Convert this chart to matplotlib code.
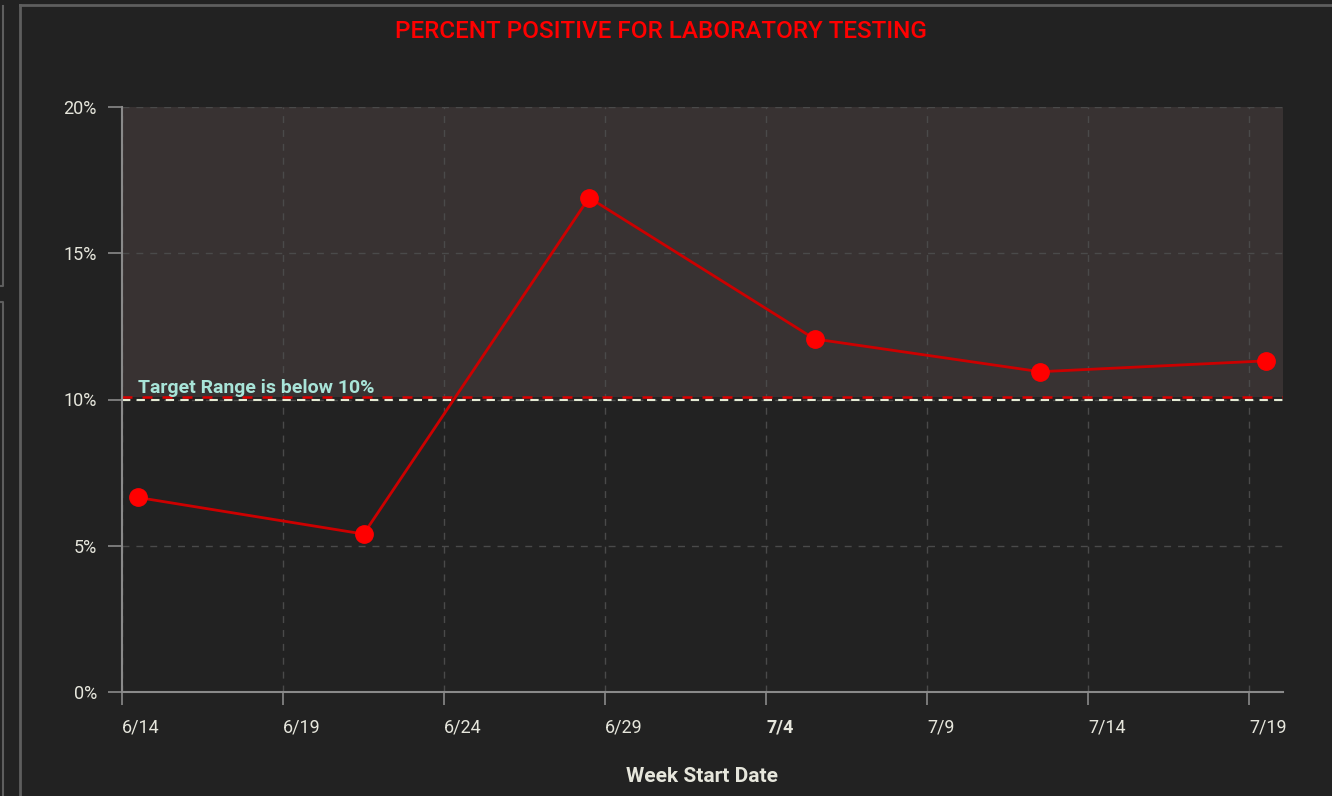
import matplotlib
matplotlib.use("Agg")
import matplotlib.pyplot as plt
from matplotlib.lines import Line2D
import pandas as pd

# ---- data ----
week_start = ["2020-06-14 12:00", "2020-06-21 12:00", "2020-06-28 12:00",
              "2020-07-05 12:00", "2020-07-12 12:00", "2020-07-19 12:00"]
pct_positive = [6.65, 5.40, 16.90, 12.07, 10.95, 11.32]
target_pct = 10.0
tick_dates = ["2020-06-14", "2020-06-19", "2020-06-24", "2020-06-29",
              "2020-07-04", "2020-07-09", "2020-07-14", "2020-07-19"]
tick_labels = ["6/14", "6/19", "6/24", "6/29", "7/4", "7/9", "7/14", "7/19"]
y_ticks = [0, 5, 10, 15, 20]
y_labels = ["0%", "5%", "10%", "15%", "20%"]
title = "PERCENT POSITIVE FOR LABORATORY TESTING"
x_title = "Week Start Date"
target_text = "Target Range is below 10%"

FONT = ["Roboto", "DejaVu Sans"]
plt.rcParams["font.family"] = FONT

BG = "#222222"
SHADE = "#383232"
TXT = "#e6e6dc"
GRID = "#4a4a4a"

x = pd.to_datetime(week_start)
ticks = pd.to_datetime(tick_dates)

fig = plt.figure(figsize=(13.32, 7.96), dpi=100, facecolor=BG)
ax = fig.add_axes([122/1332, 1 - 692/796, (1283-122)/1332, (692-107)/796])
ax.set_facecolor(BG)

x0 = pd.Timestamp("2020-06-14")
x1 = pd.Timestamp("2020-07-20 01:00")
ax.set_xlim(x0, x1)
ax.set_ylim(0, 20)

# shaded region above target
ax.axhspan(target_pct + 0.1, 20, color=SHADE, zorder=0, lw=0)

# grid
ax.set_xticks(ticks)
ax.set_yticks(y_ticks)
ax.grid(True, color=GRID, linestyle=(0, (5, 5)), linewidth=1, zorder=1)

# target lines
ax.axhline(target_pct + 0.1, color="#dd0000", linestyle=(0, (4, 4)), lw=1.8, zorder=2)
ax.axhline(target_pct, color="#e4ead4", linestyle=(0, (4, 3)), lw=1.5, zorder=2)
ax.text(pd.Timestamp("2020-06-14 12:00"), target_pct + 0.08, target_text,
        color="#a8e4d8", fontsize=14, fontweight="bold", ha="left", va="bottom",
        zorder=4)

# data
ax.plot(x, pct_positive, color="#cc0000", lw=2, zorder=3)
ax.plot(x, pct_positive, linestyle="none", marker="o", markersize=12.5,
        markerfacecolor="#ff0000", markeredgecolor="#ff0000", zorder=4)

# axes styling
for s in ["top", "right"]:
    ax.spines[s].set_visible(False)
for s in ["left", "bottom"]:
    ax.spines[s].set_color("#8a8a8a")
    ax.spines[s].set_linewidth(1.5)

ax.set_xticklabels(tick_labels)
ax.set_yticklabels(y_labels)
ax.tick_params(axis="x", colors="#8a8a8a", length=9, width=1.2, labelcolor=TXT,
               labelsize=13, pad=10)
ax.tick_params(axis="y", colors="#8a8a8a", length=10, width=1.2, labelcolor=TXT,
               labelsize=13, pad=8)
for lab in ax.get_xticklabels():
    lab.set_horizontalalignment("left")
    if lab.get_text() == "7/4":
        lab.set_fontweight("bold")

ax.set_xlabel(x_title, color=TXT, fontsize=15, fontweight="bold", labelpad=22)

fig.text(661/1332, 1 - 32/796, title, color="#ff0000", fontsize=17.5,
         fontweight="medium", ha="center", va="center")

# panel borders
bc = "#5e5e5e"
fig.add_artist(Line2D([20/1332, 20/1332], [0, 1 - 5/796], color=bc, lw=2,
                      transform=fig.transFigure))
fig.add_artist(Line2D([20/1332, 1], [1 - 5/796, 1 - 5/796], color=bc, lw=2,
                      transform=fig.transFigure))
fig.add_artist(Line2D([0, 3/1332, 3/1332], [1 - 286/796, 1 - 286/796, 1 - 6/796],
                      color=bc, lw=1.5, transform=fig.transFigure))
fig.add_artist(Line2D([0, 3/1332, 3/1332], [1 - 302/796, 1 - 302/796, 0],
                      color=bc, lw=1.5, transform=fig.transFigure))

fig.savefig("out.png", dpi=100, facecolor=BG)
